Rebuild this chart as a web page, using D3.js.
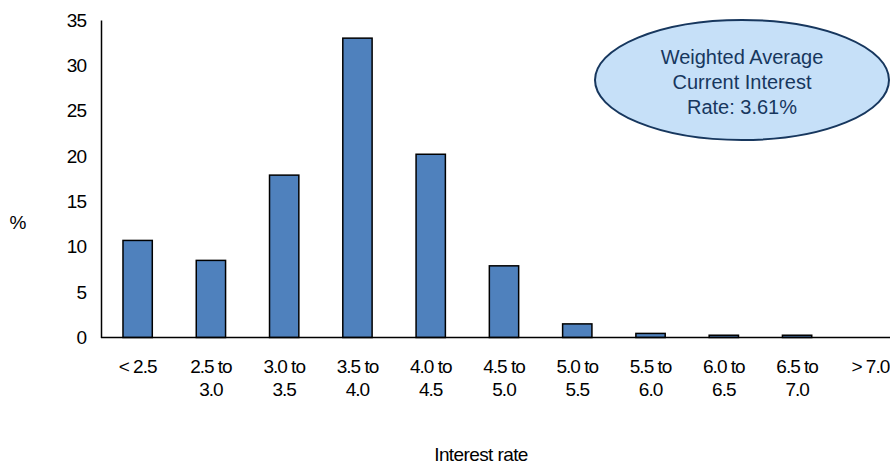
<!DOCTYPE html>
<html>
<head>
<meta charset="utf-8">
<script src="https://cdn.jsdelivr.net/npm/d3@7"></script>
<style>
  body { margin: 0; background: #fff; }
  text { font-family: "Liberation Sans", Arial, sans-serif; }
</style>
</head>
<body>
<div id="chart"></div>
<script>
var categories = ['<2.5', '2.5 to 3.0', '3.0 to 3.5', '3.5 to 4.0', '4.0 to 4.5', '4.5 to 5.0',
  '5.0 to 5.5', '5.5 to 6.0', '6.0 to 6.5', '6.5 to 7.0', '>7.0'];
var labelLines = [['< 2.5'], ['2.5 to', '3.0'], ['3.0 to', '3.5'], ['3.5 to', '4.0'], ['4.0 to', '4.5'],
  ['4.5 to', '5.0'], ['5.0 to', '5.5'], ['5.5 to', '6.0'], ['6.0 to', '6.5'], ['6.5 to', '7.0'], ['> 7.0']];
var shares = [10.7, 8.5, 17.9, 33.0, 20.2, 7.9, 1.5, 0.45, 0.25, 0.25, 0];
var yTicks = [0, 5, 10, 15, 20, 25, 30, 35];
var noteLines = ['Weighted Average', 'Current Interest', 'Rate: 3.61%'];

var W = 890, H = 467;
var svg = d3.select('#chart').append('svg')
  .attr('width', W)
  .attr('height', H);

var x = d3.scaleBand()
  .domain(categories)
  .range([101, 907])
  .paddingInner(0.6)
  .paddingOuter(0.3);

var y = d3.scaleLinear()
  .domain([0, 35])
  .range([337.5, 20]);

// bars
svg.selectAll('.bar')
  .data(shares)
  .enter().append('rect')
  .attr('class', 'bar')
  .attr('x', function(d, i) { return x(categories[i]); })
  .attr('y', function(d) { return y(d); })
  .attr('width', x.bandwidth())
  .attr('height', function(d) { return y(0) - y(d); })
  .attr('fill', '#4f81bd')
  .attr('stroke', '#000')
  .attr('stroke-width', function(d) { return d > 0 ? 1.5 : 0; });

// y axis
var yAxis = svg.append('g')
  .attr('class', 'y-axis')
  .attr('transform', 'translate(101,0)')
  .call(d3.axisLeft(y).tickValues(yTicks).tickSize(0).tickPadding(15));
yAxis.select('.domain').attr('stroke', '#000').attr('stroke-width', 1.5);
yAxis.selectAll('text')
  .attr('font-size', 19)
  .attr('fill', '#000')
  .style('letter-spacing', '-1px');

// x axis
var xAxis = svg.append('g')
  .attr('class', 'x-axis')
  .attr('transform', 'translate(0,' + y(0) + ')');
xAxis.append('line')
  .attr('x1', 101).attr('x2', W)
  .attr('y1', 0).attr('y2', 0)
  .attr('stroke', '#000')
  .attr('stroke-width', 1.5);

var lbl = xAxis.selectAll('.x-label')
  .data(categories)
  .enter().append('text')
  .attr('class', 'x-label')
  .attr('text-anchor', 'middle')
  .attr('font-size', 19)
  .attr('fill', '#000')
  .style('letter-spacing', '-1px')
  .attr('transform', function(d) { return 'translate(' + (x(d) + x.bandwidth() / 2) + ',0)'; });
lbl.selectAll('tspan')
  .data(function(d, i) { return labelLines[i]; })
  .enter().append('tspan')
  .attr('x', 0)
  .attr('y', function(d, j) { return 35 + j * 23; })
  .text(function(d) { return d; });

// axis titles
svg.append('text')
  .attr('x', 18).attr('y', 229)
  .attr('text-anchor', 'middle')
  .attr('font-size', 19)
  .text('%');

svg.append('text')
  .attr('x', 481).attr('y', 461)
  .attr('text-anchor', 'middle')
  .attr('font-size', 19)
  .style('letter-spacing', '-0.6px')
  .text('Interest rate');

// callout
svg.append('ellipse')
  .attr('cx', 742).attr('cy', 80)
  .attr('rx', 147).attr('ry', 60)
  .attr('fill', '#c6e0f8')
  .attr('stroke', '#17375e')
  .attr('stroke-width', 2);

svg.append('g').selectAll('text')
  .data(noteLines)
  .enter().append('text')
  .attr('x', 742)
  .attr('y', function(d, i) { return 64 + i * 25; })
  .attr('text-anchor', 'middle')
  .attr('font-size', 20)
  .attr('fill', '#17375e')
  .text(function(d) { return d; });
</script>
</body>
</html>
